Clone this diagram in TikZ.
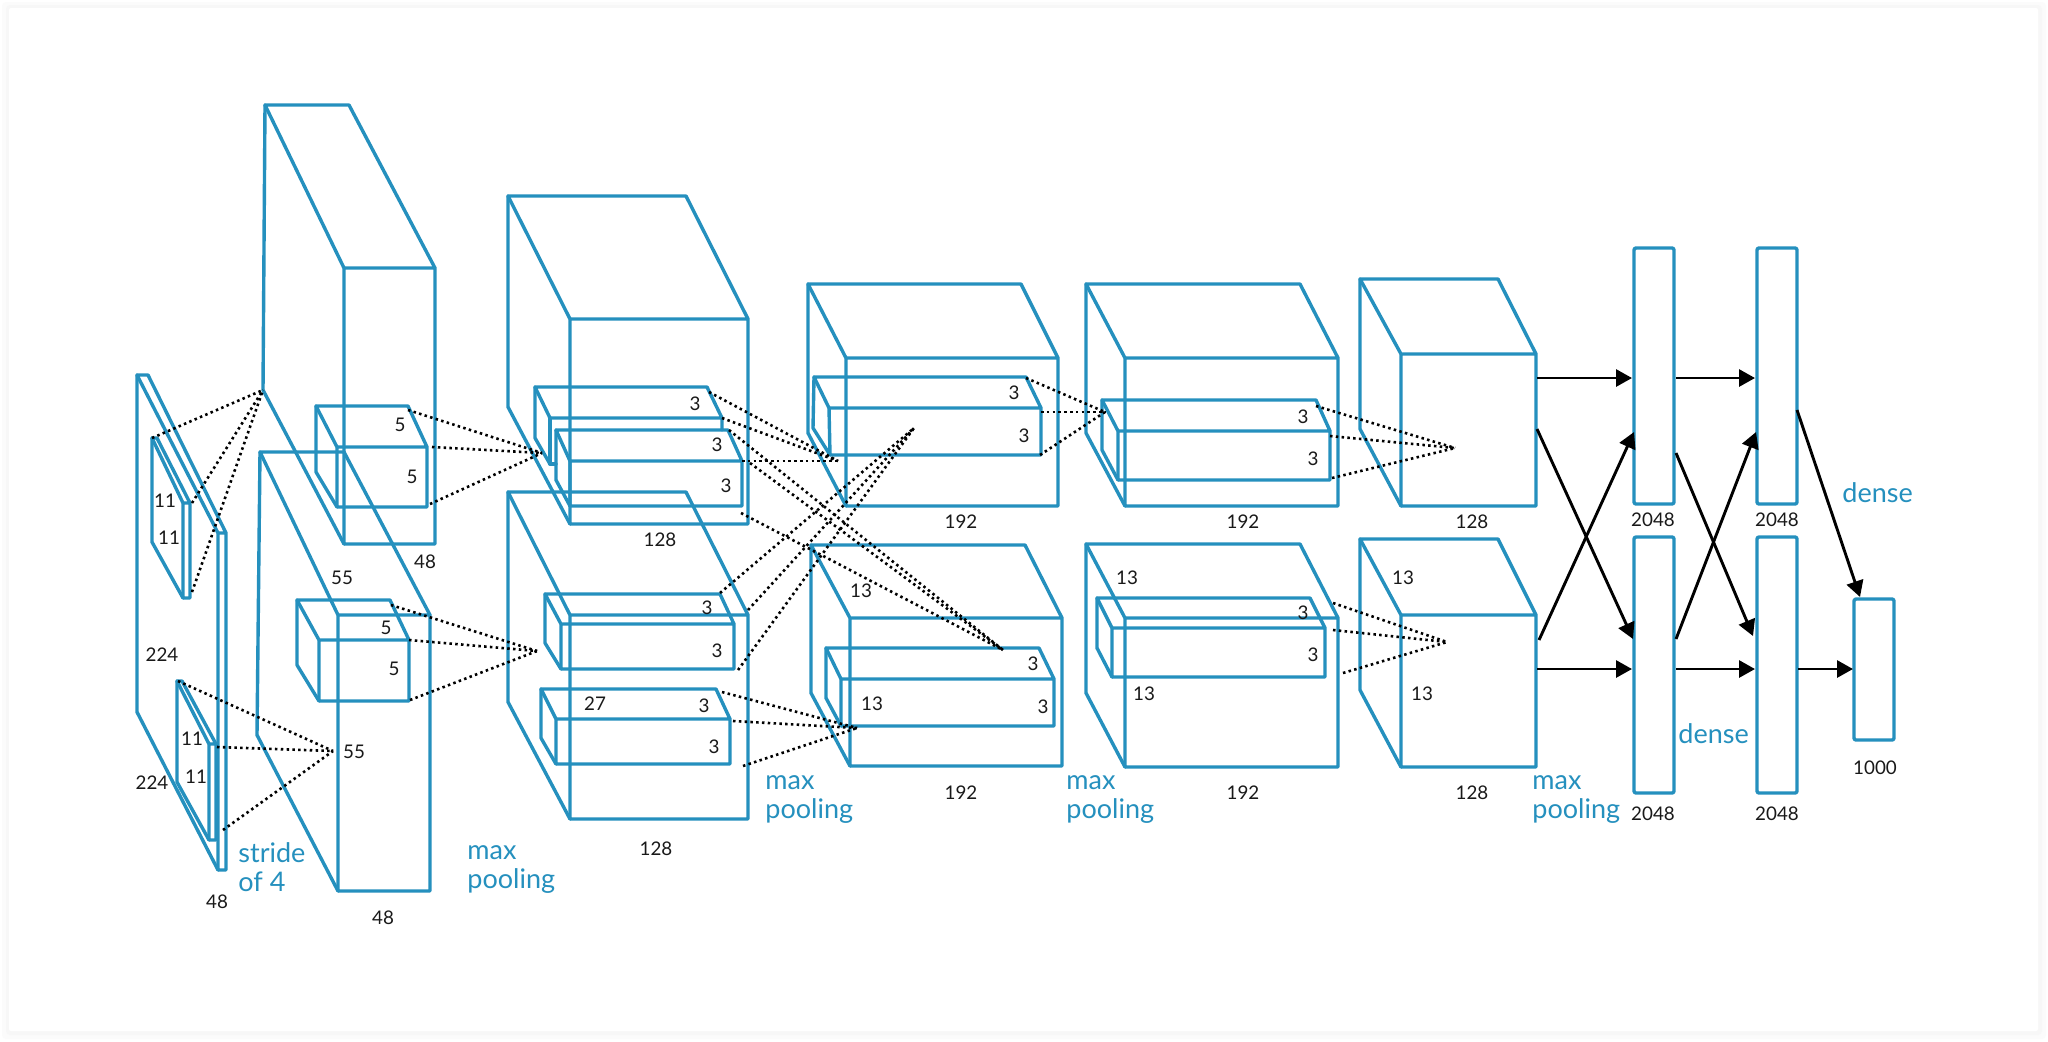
\documentclass[tikz,border=0pt]{standalone}
\usepackage{fontspec}
\setmainfont{Lato}
\usetikzlibrary{arrows.meta}
\definecolor{netblue}{HTML}{2590BE}
\tikzset{
  edge/.style={draw=netblue,line width=1.7pt,line join=round,line cap=round},
  dots/.style={draw=black,line width=1.3pt,dash pattern=on 1.25pt off 1.65pt},
  flow/.style={draw=black,line width=1.45pt,-{Triangle[length=8pt,width=8.5pt]},shorten >=0pt},
  num/.style={text=black!90,font=\fontsize{9.4}{11}\selectfont,inner sep=0pt},
  tag/.style={text=netblue,font=\fontsize{13.5}{14.6}\selectfont,inner sep=0pt,align=left,anchor=west},
  dense/.style={draw=netblue,line width=1.7pt,line join=round,rounded corners=1pt,inner sep=0pt}
}
% name, A, B, C, D, E, F, G
\newcommand\cuboid[8]{%
  \coordinate (#1A) at (#2); \coordinate (#1B) at (#3); \coordinate (#1C) at (#4);
  \coordinate (#1D) at (#5); \coordinate (#1E) at (#6); \coordinate (#1F) at (#7);
  \coordinate (#1G) at (#8);
  \draw[edge] (#1C) -- (#1A) -- (#1B) -- (#1D) -- (#1C) -- (#1E) -- (#1F) -- (#1D);
  \draw[edge] (#1A) -- (#1G) -- (#1E);
}
% name, apex, start points
\newcommand\fan[5]{%
  \coordinate (#1z) at (#2); \coordinate (#1p) at (#3); \coordinate (#1q) at (#4); \coordinate (#1r) at (#5);
  \draw[dots] (#1p) -- (#1z); \draw[dots] (#1q) -- (#1z); \draw[dots] (#1r) -- (#1z);
}
\begin{document}
\begin{tikzpicture}[x=0.5pt,y=-0.5pt]
\useasboundingbox (0,0) rectangle (2048,1041);
\fill[white] (0,0) rectangle (2048,1041);
\fill[black!1.5,rounded corners=2pt] (2,2) rectangle (2046,1039);
\fill[black!3,rounded corners=2pt] (6,5) rectangle (2042,1035);
\fill[white,rounded corners=1pt] (9,8) rectangle (2038,1031);

% input
\cuboid{in}{137,375}{148,375}{218,533}{226,533}{218,870}{226,870}{137,712}
\cuboid{ia}{152,438}{157,438}{183,503}{190,503}{183,598}{190,598}{152,542}
\cuboid{ib}{177,681}{182,681}{209,744}{216,744}{209,840}{216,840}{177,782}
% layer 1
\cuboid{la}{265,105}{349,105}{344,268}{435,268}{344,544}{435,544}{263,390}
\cuboid{lb}{316,406}{408,406}{337,447}{427,447}{337,507}{427,507}{316,472}
\cuboid{lc}{260,452}{344,452}{338,615}{430,615}{338,891}{430,891}{257,735}
\cuboid{ld}{297,600}{390,600}{319,640}{409,640}{319,701}{409,701}{297,665}
% layer 2
\cuboid{ma}{508,196}{686,196}{570,319}{748,319}{570,524}{748,524}{508,407}
\coordinate (mbA) at (535,387); \coordinate (mbB) at (707,387); \coordinate (mbC) at (550,418);
\coordinate (mbD) at (722,418); \coordinate (mbE) at (550,464); \coordinate (mbG) at (535,438);
\coordinate (mbF) at (722,430); \coordinate (mbH) at (556,464);
\draw[edge] (mbF) -- (mbD) -- (mbB) -- (mbA) -- (mbC) -- (mbD);
\draw[edge] (mbC) -- (mbE) -- (mbH);
\draw[edge] (mbA) -- (mbG) -- (mbE);
\cuboid{mc}{556,430}{728,430}{570,461}{742,461}{570,506}{742,506}{556,480}
\cuboid{md}{508,492}{686,492}{570,615}{748,615}{570,819}{748,819}{508,702}
\cuboid{me}{545,594}{720,594}{561,624}{734,624}{561,669}{734,669}{545,643}
\cuboid{mf}{541,689}{716,689}{556,719}{730,719}{556,764}{730,764}{541,738}
% layer 3
\cuboid{na}{808,284}{1021,284}{846,358}{1058,358}{846,506}{1058,506}{808,433}
\cuboid{nb}{814,377}{1026,377}{829,408}{1041,408}{830,455}{1041,455}{813,428}
\cuboid{nc}{811,545}{1025,545}{850,618}{1062,618}{850,766}{1062,766}{811,693}
\cuboid{nd}{826,648}{1039,648}{841,679}{1054,679}{841,726}{1054,726}{826,698}
% layer 4
\cuboid{oa}{1086,284}{1300,284}{1125,358}{1338,358}{1125,506}{1338,506}{1086,433}
\cuboid{ob}{1102,400}{1316,400}{1118,431}{1330,431}{1118,480}{1330,480}{1102,450}
\cuboid{oc}{1086,544}{1300,544}{1125,618}{1338,618}{1125,767}{1338,767}{1086,693}
\cuboid{od}{1097,598}{1310,598}{1112,628}{1325,628}{1112,677}{1325,677}{1097,648}
% layer 5
\cuboid{pa}{1360,279}{1498,279}{1401,354}{1536,354}{1401,506}{1536,506}{1360,429}
\cuboid{pb}{1360,539}{1498,539}{1401,615}{1536,615}{1401,767}{1536,767}{1360,690}

% dense boxes
\node[dense,minimum width=20pt,minimum height=128pt] (d1) at (1654,376) {};
\node[dense,minimum width=20pt,minimum height=128pt] (d2) at (1654,665) {};
\node[dense,minimum width=20pt,minimum height=128pt] (d3) at (1777,376) {};
\node[dense,minimum width=20pt,minimum height=128pt] (d4) at (1777,665) {};
\node[dense,minimum width=20pt,minimum height=70.5pt] (d5) at (1874,669.5) {};

% receptive field fans
\fan{f1}{263,390}{152,438}{192,503}{192,592}
\fan{f2}{333,751}{178,681}{217,747}{223,830}
\fan{f3}{542,453}{408,410}{432,447}{430,504}
\fan{f4}{537,651}{391,605}{409,640}{410,700}
\fan{f5}{838,461}{709,392}{722,418}{742,461}
\fan{f6}{1003,650}{729,430}{750,463}{741,513}
\fan{f7}{914,428}{720,593}{748,610}{738,670}
\fan{f8}{857,728}{722,692}{733,721}{743,766}
\fan{f9}{1105,412}{1026,378}{1041,412}{1040,455}
\fan{f10}{1455,448}{1316,406}{1330,436}{1332,478}
\fan{f11}{1447,642}{1333,603}{1333,630}{1343,673}

% arrows
\coordinate (a1) at (1537,378); \coordinate (a2) at (1537,429); \coordinate (a3) at (1539,640); \coordinate (a4) at (1537,669);
\coordinate (a5) at (1676,378); \coordinate (a6) at (1676,453); \coordinate (a7) at (1676,639); \coordinate (a8) at (1676,669);
\coordinate (t1) at (1632,378); \coordinate (t2) at (1633,639); \coordinate (t3) at (1634,432); \coordinate (t4) at (1632,669);
\coordinate (t5) at (1755,378); \coordinate (t6) at (1753,636); \coordinate (t7) at (1756,432); \coordinate (t8) at (1755,669);
\coordinate (a9) at (1797,410); \coordinate (t9) at (1860,597); \coordinate (a10) at (1798,669); \coordinate (t10) at (1853,669);
\foreach \i in {1,...,10} {\draw[flow] (a\i) -- (t\i);}

% numbers
\foreach \nm/\x/\y/\t in {
 n1/400/425/5, n2/412/477/5, n3/165/501/11, n4/169/538/11, n5/425/562/48, n6/342/578/55,
 n7/386/628/5, n8/394/669/5, n9/162/655/224, n10/354/752/55, n11/192/739/11, n12/196/777/11,
 n13/152/783/224, n14/217/902/48, n15/383/918/48,
 n16/695/404/3, n17/717/445/3, n18/726/486/3, n19/660/540/128, n20/961/522/192, n21/1014/393/3, n22/1024/436/3,
 n23/707/608/3, n24/717/651/3, n25/595/704/27, n26/704/706/3, n27/714/747/3, n28/656/849/128,
 n29/861/591/13, n30/872/704/13, n31/1033/664/3, n32/1043/707/3, n33/961/793/192,
 n34/1303/417/3, n35/1313/459/3, n36/1243/522/192, n37/1472/522/128,
 n38/1127/578/13, n39/1303/613/3, n40/1313/655/3, n41/1144/694/13, n42/1403/578/13, n43/1422/694/13,
 n44/1243/793/192, n45/1472/793/128,
 n46/1653/520/2048, n47/1777/520/2048, n48/1653/814/2048, n49/1777/814/2048, n50/1875/768/1000}
 {\node[num] (\nm) at (\x,\y) {\t};}

% layer tags
\node[tag] (s1) at (238,867) {stride\\of 4};
\node[tag] (s2) at (467,869.5) {max\\pooling};
\node[tag] (s3) at (765,799.5) {max\\pooling};
\node[tag] (s4) at (1066,799.5) {max\\pooling};
\node[tag] (s5) at (1532,799.5) {max\\pooling};
\node[tag] (s6) at (1678,734) {dense};
\node[tag] (s7) at (1842,493) {dense};
\end{tikzpicture}
\end{document}
